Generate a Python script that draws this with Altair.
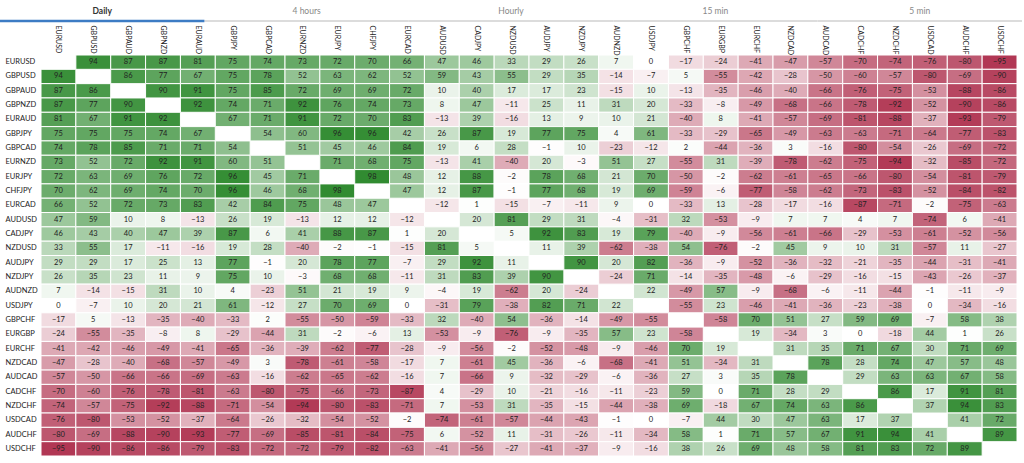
import altair as alt
import pandas as pd

pairs = ["EURUSD", "GBPUSD", "GBPAUD", "GBPNZD", "EURAUD", "GBPJPY", "GBPCAD",
         "EURNZD", "EURJPY", "CHFJPY", "EURCAD", "AUDUSD", "CADJPY", "NZDUSD",
         "AUDJPY", "NZDJPY", "AUDNZD", "USDJPY", "GBPCHF", "EURGBP", "EURCHF",
         "NZDCAD", "AUDCAD", "CADCHF", "NZDCHF", "USDCAD", "AUDCHF", "USDCHF"]

tabs = ["Daily", "4 hours", "Hourly", "15 min", "5 min"]

N = None
corr = [
    [N, 94, 87, 87, 81, 75, 74, 73, 72, 70, 66, 47, 46, 33, 29, 26, 7, 0, -17, -24, -41, -47, -57, -70, -74, -76, -80, -95],
    [94, N, 86, 77, 67, 75, 78, 52, 63, 62, 52, 59, 43, 55, 29, 35, -14, -7, 5, -55, -42, -28, -50, -60, -57, -80, -69, -90],
    [87, 86, N, 90, 91, 75, 85, 72, 69, 69, 72, 10, 40, 17, 17, 23, -15, 10, -13, -35, -46, -40, -66, -76, -75, -53, -88, -86],
    [87, 77, 90, N, 92, 74, 71, 92, 76, 74, 73, 8, 47, -11, 25, 11, 31, 20, -33, -8, -49, -68, -66, -78, -92, -52, -90, -86],
    [81, 67, 91, 92, N, 67, 71, 91, 72, 70, 83, -13, 39, -16, 13, 9, 10, 21, -40, 8, -41, -57, -69, -81, -88, -37, -93, -79],
    [75, 75, 75, 74, 67, N, 54, 60, 96, 96, 42, 26, 87, 19, 77, 75, 4, 61, -33, -29, -65, -49, -63, -63, -71, -64, -77, -83],
    [74, 78, 85, 71, 71, 54, N, 51, 45, 46, 84, 19, 6, 28, -1, 10, -23, -12, 2, -44, -36, 3, -16, -80, -54, -26, -69, -72],
    [73, 52, 72, 92, 91, 60, 51, N, 71, 68, 75, -13, 41, -40, 20, -3, 51, 27, -55, 31, -39, -78, -62, -75, -94, -32, -85, -72],
    [72, 63, 69, 76, 72, 96, 45, 71, N, 98, 48, 12, 88, -2, 78, 68, 21, 70, -50, -2, -62, -61, -65, -66, -80, -54, -81, -79],
    [70, 62, 69, 74, 70, 96, 46, 68, 98, N, 47, 12, 87, -1, 77, 68, 19, 69, -59, -6, -77, -58, -62, -73, -83, -52, -84, -82],
    [66, 52, 72, 73, 83, 42, 84, 75, 48, 47, N, -12, 1, -15, -7, -11, 9, 0, -33, 13, -28, -17, -16, -87, -71, -2, -75, -63],
    [47, 59, 10, 8, -13, 26, 19, -13, 12, 12, -12, N, 20, 81, 29, 31, -4, -31, 32, -53, -9, 7, 7, 4, 7, -74, 6, -41],
    [46, 43, 40, 47, 39, 87, 6, 41, 88, 87, 1, 20, N, 5, 92, 83, 19, 79, -40, -9, -56, -61, -66, -29, -53, -61, -52, -56],
    [33, 55, 17, -11, -16, 19, 28, -40, -2, -1, -15, 81, 5, N, 11, 39, -62, -38, 54, -76, -2, 45, 9, 10, 31, -57, 11, -27],
    [29, 29, 17, 25, 13, 77, -1, 20, 78, 77, -7, 29, 92, 11, N, 90, 20, 82, -36, -9, -52, -36, -32, -21, -35, -44, -31, -41],
    [26, 35, 23, 11, 9, 75, 10, -3, 68, 68, -11, 31, 83, 39, 90, N, -24, 71, -14, -35, -48, -6, -29, -16, -15, -43, -26, -37],
    [7, -14, -15, 31, 10, 4, -23, 51, 21, 19, 9, -4, 19, -62, 20, -24, N, 22, -49, 57, -9, -68, -6, -11, -44, -1, -11, -9],
    [0, -7, 10, 20, 21, 61, -12, 27, 70, 69, 0, -31, 79, -38, 82, 71, 22, N, -55, 23, -46, -41, -36, -23, -38, 0, -34, -16],
    [-17, 5, -13, -35, -40, -33, 2, -55, -50, -59, -33, 32, -40, 54, -36, -14, -49, -55, N, -58, 70, 51, 27, 59, 69, -7, 58, 38],
    [-24, -55, -35, -8, 8, -29, -44, 31, -2, -6, 13, -53, -9, -76, -9, -35, 57, 23, -58, N, 19, -34, 3, 0, -18, 44, 1, 26],
    [-41, -42, -46, -49, -41, -65, -36, -39, -62, -77, -28, -9, -56, -2, -52, -48, -9, -46, 70, 19, N, 31, 35, 71, 67, 30, 71, 69],
    [-47, -28, -40, -68, -57, -49, 3, -78, -61, -58, -17, 7, -61, 45, -36, -6, -68, -41, 51, -34, 31, N, 78, 28, 74, 47, 57, 48],
    [-57, -50, -66, -66, -69, -63, -16, -62, -65, -62, -16, 7, -66, 9, -32, -29, -6, -36, 27, 3, 35, 78, N, 29, 63, 63, 67, 58],
    [-70, -60, -76, -78, -81, -63, -80, -75, -66, -73, -87, 4, -29, 10, -21, -16, -11, -23, 59, 0, 71, 28, 29, N, 86, 17, 91, 81],
    [-74, -57, -75, -92, -88, -71, -54, -94, -80, -83, -71, 7, -53, 31, -35, -15, -44, -38, 69, -18, 67, 74, 63, 86, N, 37, 94, 83],
    [-76, -80, -53, -52, -37, -64, -26, -32, -54, -52, -2, -74, -61, -57, -44, -43, -1, 0, -7, 44, 30, 47, 63, 17, 37, N, 41, 72],
    [-80, -69, -88, -90, -93, -77, -69, -85, -81, -84, -75, 6, -52, 11, -31, -26, -11, -34, 58, 1, 71, 57, 67, 91, 94, 41, N, 89],
    [-95, -90, -86, -86, -79, -83, -72, -72, -79, -82, -63, -41, -56, -27, -41, -37, -9, -16, 38, 26, 69, 48, 58, 81, 83, 72, 89, N],
]

records = []
for i, r in enumerate(pairs):
    for j, c in enumerate(pairs):
        records.append({"row": r, "col": c, "v": corr[i][j]})
df = pd.DataFrame(records)
df = df[df["v"].notna()]

tab_df = pd.DataFrame({"name": tabs, "idx": list(range(len(tabs))),
                       "active": [i == 0 for i in range(len(tabs))]})

FONT = "Lato"

yaxis = alt.Axis(orient="left", title=None, labelAlign="left",
                 labelBaseline="middle", labelPadding=36, tickSize=0,
                 ticks=False, domain=False, labelFontSize=7.5,
                 labelColor="#222", labelFont=FONT, labelOverlap=False,
                 labelLimit=0)
yscale = alt.Scale(paddingInner=0, paddingOuter=0)

xenc = alt.X("col:N", sort=pairs,
             scale=alt.Scale(paddingInner=0, paddingOuter=0),
             axis=alt.Axis(orient="top", title=None, labelAngle=90, labelAlign="left",
                           labelBaseline="middle", labelPadding=30, tickSize=0,
                           ticks=False, domain=False, labelFontSize=7,
                           labelColor="#222", labelFont=FONT, labelOverlap=False,
                           labelLimit=0))

base = alt.Chart(df)
rect = base.mark_rect(stroke="white", strokeWidth=1).encode(
    x=xenc,
    y=alt.Y("row:N", sort=pairs, scale=yscale, axis=yaxis),
    color=alt.Color("v:Q", scale=alt.Scale(domain=[-100, 0, 100],
                                           range=["#ad2d4b", "#ffffff", "#2d892d"],
                                           interpolate="rgb"),
                    legend=None),
)
text = base.mark_text(fontSize=7.5, color="#222", font=FONT).encode(
    x=alt.X("col:N", sort=pairs, scale=alt.Scale(paddingInner=0, paddingOuter=0),
            axis=None),
    y=alt.Y("row:N", sort=pairs, scale=yscale, axis=yaxis),
    text=alt.Text("v:Q", format="d"),
)

tabscale = alt.Scale(domain=[0, len(tabs)], range=[-41, 981])
tab_base = alt.Chart(tab_df).transform_calculate(
    c="datum.idx + 0.5", e="datum.idx + 1")
tab_text_active = tab_base.transform_filter("datum.active").mark_text(
    fontSize=8.5, font=FONT, baseline="middle", fontWeight="bold", color="#333"
).encode(
    x=alt.X("c:Q", scale=tabscale, axis=None),
    y=alt.value(-44),
    text="name:N",
)
tab_text_other = tab_base.transform_filter("!datum.active").mark_text(
    fontSize=8.5, font=FONT, baseline="middle", color="#888"
).encode(
    x=alt.X("c:Q", scale=tabscale, axis=None),
    y=alt.value(-44),
    text="name:N",
)
tab_rule_other = tab_base.transform_filter("!datum.active").mark_rule(
    color="#dcdcdc", strokeWidth=2
).encode(
    x=alt.X("idx:Q", scale=tabscale, axis=None),
    x2="e:Q",
    y=alt.value(-34),
)
tab_rule_active = tab_base.transform_filter("datum.active").mark_rule(
    color="#3d7cc4", strokeWidth=2.5
).encode(
    x=alt.X("idx:Q", scale=tabscale, axis=None),
    x2="e:Q",
    y=alt.value(-34),
)

chart = alt.layer(rect, text, tab_rule_other, tab_rule_active,
                  tab_text_active, tab_text_other).resolve_scale(
    x="independent"
).properties(
    width=976, height=401,
    autosize=alt.AutoSizeParams(type="none"),
    padding={"left": 41, "top": 55, "right": 7, "bottom": 7},
    background="white",
).configure_view(stroke=None)

chart.save("out.html", embed_options={"renderer": "svg", "actions": False})
